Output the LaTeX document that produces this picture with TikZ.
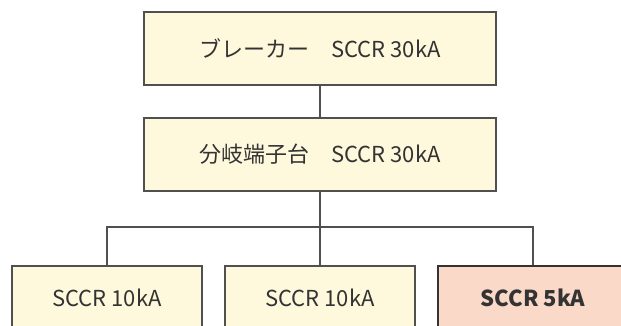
\documentclass[tikz,border=0pt]{standalone}
\usepackage{fontspec}
\setmainfont{Noto Sans CJK JP}
\definecolor{boxfill}{HTML}{FEF9DC}
\definecolor{hotfill}{HTML}{FBD9C9}
\definecolor{edge}{HTML}{505050}
\definecolor{txt}{HTML}{333333}
\tikzset{
  box/.style={draw=edge, line width=1.4pt, fill=boxfill, text=txt, rectangle,
    inner sep=0pt, font=\fontsize{22}{26}\selectfont},
  wide/.style={minimum width=352pt, minimum height=73pt},
  leaf/.style={minimum width=190pt, minimum height=64pt},
  hot/.style={fill=hotfill, draw=txt, line width=1.8pt, font=\fontsize{22}{26}\selectfont\bfseries},
  wire/.style={draw=edge, line width=1.3pt}
}
\begin{document}
\begin{tikzpicture}[x=1pt,y=-1pt]
\useasboundingbox (0,0) rectangle (621,325);
\node[box, wide] (top) at (320,48.5) {ブレーカー　SCCR 30kA};
\node[box, wide] (mid) at (320,154.5) {分岐端子台　SCCR 30kA};
\node[box, leaf] (b1) at (107,298) {SCCR 10kA};
\node[box, leaf] (b2) at (320,298) {SCCR 10kA};
\node[box, leaf, hot] (b3) at (533,298) {SCCR 5kA};
\coordinate (bus) at (320,227);
\draw[wire] (top) -- (mid);
\draw[wire] (mid) -- (b2);
\draw[wire] (b1.north) |- (bus) -| (b3.north);
\end{tikzpicture}
\end{document}
